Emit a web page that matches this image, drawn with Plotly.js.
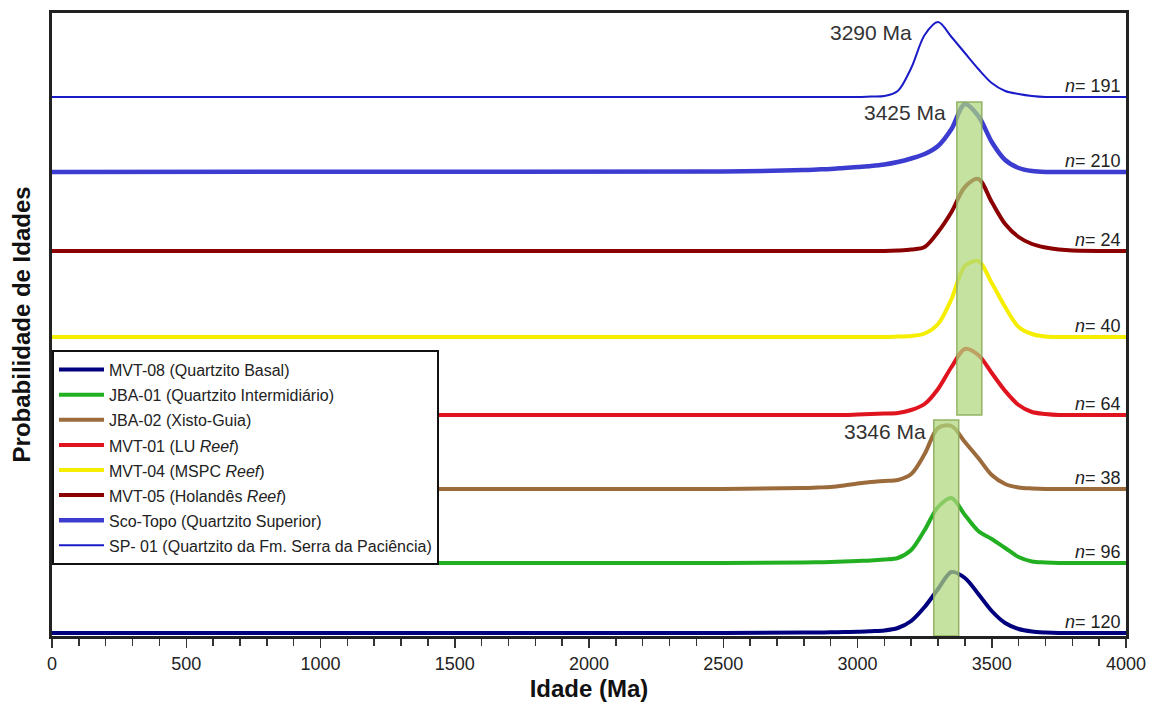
<!DOCTYPE html>
<html>
<head>
<meta charset="utf-8">
<script src="https://cdn.plot.ly/plotly-3.0.1.min.js"></script>
<style>html,body{margin:0;padding:0;background:#fff;}#chart{width:1156px;height:705px;}</style>
</head>
<body>
<div id="chart"></div>
<script>
// Ages (Ma) at which the probability curves were read
const ages = [0, 2500, 2800, 2850, 2900, 2950, 3000, 3050, 3100, 3150, 3200, 3250, 3300, 3350, 3400, 3450, 3500, 3550, 3600, 3650, 3700, 3750, 3800, 4000];

// Relative probability (height above each sample's baseline)
const mvt08   = [0, 0, 0.5, 0.5, 0.7, 1, 1.2, 1.8, 2.5, 5, 12, 26, 44, 61, 55, 39, 22, 10, 4, 1.5, 0.5, 0, 0, 0];
const jba01   = [0, 0, 0.5, 0.7, 1, 1.5, 2, 2.5, 3.5, 5, 13, 33, 56, 65, 48, 32, 24, 15, 6, 1.5, 0.5, 0, 0, 0];
const jba02   = [0, 0, 1, 1.5, 2, 3.5, 5.5, 7, 8, 9, 15, 35, 61, 63, 47, 31, 14, 5, 1.5, 0.5, 0, 0, 0, 0];
const mvt01   = [0, 0, 0, 0, 0, 0, 0.5, 1, 1.5, 2, 5, 11, 26, 48, 66, 60, 42, 24, 10, 3, 1, 0, 0, 0];
const mvt04   = [0, 0, 0, 0, 0, 0, 0, 0, 0, 0.5, 1, 3.5, 13, 38, 71, 76, 54, 30, 10, 3, 0.5, 0, 0, 0];
const mvt05   = [0, 0, 0, 0, 0, 0, 0, 0, 0, 0.5, 1.5, 4, 19, 39, 64, 72, 49, 27, 14, 7, 3.5, 1.5, 0.5, 0];
const scoTopo = [0, 0.5, 2, 2.5, 3, 4, 5, 6, 7.5, 10, 13.5, 18, 26, 43, 68, 56, 30, 12, 4, 1, 0, 0, 0, 0];
const sp01    = [0, 0, 0, 0, 0, 0, 0, 0.5, 1, 6, 29, 62, 75, 60, 44, 28, 14, 6, 3, 1, 0, 0, 0, 0];

const sampleNames = [
  'MVT-08 (Quartzito Basal)',
  'JBA-01 (Quartzito Intermidiário)',
  'JBA-02 (Xisto-Guia)',
  'MVT-01 (LU <i>Reef</i>)',
  'MVT-04 (MSPC <i>Reef</i>)',
  'MVT-05 (Holandês <i>Reef</i>)',
  'Sco-Topo (Quartzito Superior)',
  'SP- 01 (Quartzito da Fm. Serra da Paciência)'
];
const sampleCounts = [120, 96, 38, 64, 40, 24, 210, 191];
const baselines = [3, 73, 147, 221, 299, 385, 464, 539];
const seriesData = [mvt08, jba01, jba02, mvt01, mvt04, mvt05, scoTopo, sp01];
const colors = ['#00007f', '#22b022', '#9c6b3c', '#e0141e', '#f5ee00', '#8b0000', '#3c3cd0', '#1a1ac8'];
const widths = [4, 4, 4, 4, 4, 4, 4.5, 2];

// Highlighted peak ages and their bands
const peakLabels = ['3290 Ma', '3425 Ma', '3346 Ma'];
const peakLabelAges = [3210, 3336, 3262];
const peakLabelLevels = [604, 524, 205];
const bandAges = [[3370, 3463], [3284, 3377]];
const bandLevels = [[221, 534], [0, 216]];

const font = 'Liberation Sans, Arial, Helvetica, sans-serif';

const traces = seriesData.map((vals, i) => ({
  type: 'scatter',
  mode: 'lines',
  x: ages,
  y: vals.map(v => v + baselines[i]),
  name: '<span style="font-size:16px">' + sampleNames[i] + '</span>',
  line: {color: colors[i], width: widths[i], shape: 'spline', smoothing: 0.9},
  hoverinfo: 'skip'
}));

const annotations = [];
peakLabels.forEach((t, i) => annotations.push({
  x: peakLabelAges[i], y: peakLabelLevels[i], xref: 'x', yref: 'y',
  text: t, showarrow: false, xanchor: 'right', yanchor: 'middle',
  font: {family: font, size: 21, color: '#333'}
}));
sampleCounts.forEach((n, i) => annotations.push({
  x: 1, xref: 'paper', y: baselines[i] + 11, yref: 'y',
  text: '<i>n</i>= ' + n, showarrow: false, xanchor: 'right', yanchor: 'middle', xshift: -3,
  font: {family: font, size: 18, color: '#222'}
}));
// y-axis title placed beside the frame
annotations.push({
  x: -0.028, xref: 'paper', y: 0.5, yref: 'paper',
  text: '<b>Probabilidade de Idades</b>', textangle: -90, showarrow: false,
  xanchor: 'center', yanchor: 'middle',
  font: {family: font, size: 24, color: '#111'}
});

const shapes = bandAges.map((b, i) => ({
  type: 'rect', xref: 'x', yref: 'y',
  x0: b[0], x1: b[1], y0: bandLevels[i][0], y1: bandLevels[i][1],
  fillcolor: 'rgba(175,215,125,0.72)',
  line: {color: 'rgba(140,172,90,0.9)', width: 1.5},
  layer: 'above'
}));

const layout = {
  width: 1156, height: 705,
  margin: {l: 52, r: 30, t: 13, b: 69},
  paper_bgcolor: '#fff', plot_bgcolor: '#fff',
  font: {family: font, color: '#222'},
  showlegend: true,
  legend: {
    x: 0, y: 0.459, xanchor: 'left', yanchor: 'top',
    bgcolor: '#fff', bordercolor: '#111', borderwidth: 2,
    font: {family: font, size: 17, color: '#222'},
    itemwidth: 45, traceorder: 'normal'
  },
  xaxis: {
    range: [0, 4000], dtick: 500, tick0: 0,
    ticks: 'outside', ticklen: 9, tickwidth: 1.5, tickcolor: '#333',
    minor: {dtick: 100, ticks: 'outside', ticklen: 7, tickwidth: 1.5, tickcolor: '#333', showgrid: false},
    showgrid: false, zeroline: false,
    showline: true, mirror: true, linewidth: 3, linecolor: '#222',
    tickfont: {family: font, size: 18, color: '#222'},
    title: {text: '<b>Idade (Ma)</b>', font: {family: font, size: 24, color: '#111'}, standoff: 8}
  },
  yaxis: {
    range: [0, 623], showticklabels: false, ticks: '',
    showgrid: false, zeroline: false,
    showline: true, mirror: true, linewidth: 3, linecolor: '#222'
  },
  annotations: annotations,
  shapes: shapes
};

Plotly.newPlot('chart', traces, layout, {displayModeBar: false, staticPlot: true});
</script>
</body>
</html>
